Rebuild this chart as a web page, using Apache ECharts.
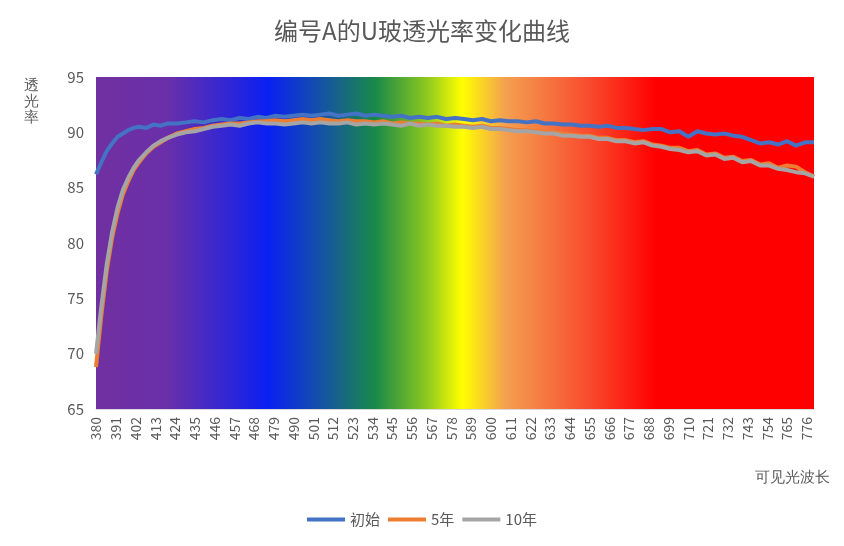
<!DOCTYPE html>
<html><head><meta charset="utf-8">
<script src="https://cdn.jsdelivr.net/npm/echarts@6/dist/echarts.min.js"></script>
<style>html,body{margin:0;padding:0;background:#fff}#c{width:844px;height:546px}</style>
</head><body><div id="c"></div>
<script>
const startWave = 380, endWave = 780;
const waves = [];
for (let w = startWave; w <= endWave; w++) waves.push(String(w));
const sampleWaves = [380,383,386,389,392,395,398,401,404,408,412,416,420,425,430,435,440,445,450,455,460,465,470,475,480,485,490,495,500,505,510,515,520,525,530,535,540,545,550,555,560,565,570,575,580,585,590,595,600,605,610,615,620,625,630,635,640,645,650,655,660,665,670,675,680,685,690,695,700,705,710,715,720,725,730,735,740,745,750,755,760,765,770,775,780];
const initial = [86.2,87.3,88.3,89.0,89.6,89.9,90.2,90.4,90.5,90.4,90.7,90.6,90.8,90.8,90.9,91.0,90.9,91.1,91.2,91.1,91.3,91.2,91.4,91.3,91.5,91.4,91.5,91.6,91.5,91.6,91.7,91.5,91.6,91.7,91.5,91.6,91.5,91.4,91.5,91.3,91.4,91.3,91.4,91.2,91.3,91.2,91.1,91.2,91.0,91.1,91.0,91.0,90.9,91.0,90.8,90.8,90.7,90.7,90.6,90.6,90.5,90.6,90.4,90.4,90.3,90.2,90.3,90.3,90.0,90.1,89.6,90.1,89.9,89.8,89.9,89.7,89.6,89.3,89.0,89.1,88.9,89.2,88.8,89.1,89.1];
const year5 = [68.8,73.5,77.5,80.5,82.7,84.4,85.6,86.6,87.3,88.1,88.7,89.1,89.5,89.9,90.1,90.3,90.4,90.6,90.7,90.8,90.8,90.9,91.0,91.0,91.1,91.0,91.1,91.2,91.1,91.2,91.1,91.0,91.1,91.0,91.0,90.9,91.0,90.8,90.9,90.8,90.8,90.7,90.8,90.6,90.7,90.6,90.5,90.6,90.4,90.4,90.3,90.2,90.2,90.1,90.0,90.0,89.9,89.8,89.7,89.7,89.5,89.5,89.3,89.3,89.1,89.2,88.9,88.8,88.6,88.6,88.3,88.4,88.0,88.1,87.7,87.8,87.4,87.5,87.1,87.2,86.8,87.0,86.9,86.4,86.0];
const year10 = [70.0,74.3,78.1,81.0,83.2,84.8,85.9,86.8,87.5,88.2,88.8,89.2,89.5,89.8,90.0,90.1,90.3,90.5,90.6,90.7,90.6,90.8,90.9,90.8,90.8,90.7,90.8,90.9,90.8,90.9,90.8,90.8,90.9,90.7,90.8,90.7,90.8,90.7,90.6,90.8,90.6,90.7,90.6,90.6,90.5,90.5,90.4,90.5,90.3,90.3,90.2,90.1,90.1,90.0,89.9,89.9,89.7,89.7,89.6,89.6,89.4,89.4,89.2,89.2,89.0,89.1,88.8,88.7,88.5,88.4,88.2,88.3,87.9,88.0,87.6,87.7,87.3,87.4,87.0,87.0,86.7,86.6,86.4,86.3,86.0];
const seriesNames = ['初始','5年','10年'];
const seriesColors = ['#4472C4','#ED7D31','#A5A5A5'];
const pairs = arr => sampleWaves.map((w,i)=>[String(w),arr[i]]);
const chart = echarts.init(document.getElementById('c'));
const font = 'Microsoft YaHei, "Noto Sans CJK SC", sans-serif';
chart.setOption({
  animation:false,
  textStyle:{fontFamily:font},
  title:{text:'编号A的U玻透光率变化曲线',left:'center',top:14,textStyle:{fontSize:24,fontWeight:'normal',color:'#595959',fontFamily:font}},
  legend:{bottom:14,left:'center',itemWidth:38,itemHeight:4,itemGap:8,icon:'rect',textStyle:{fontSize:15,color:'#595959'},data:seriesNames},
  graphic:[
    {type:'text',left:24,top:78,style:{text:'透\n光\n率',fontSize:15,fill:'#595959',lineHeight:16}},
    {type:'text',right:14,top:470,style:{text:'可见光波长',fontSize:15,fill:'#595959'}}
  ],
  grid:{left:96,right:30,top:77,bottom:137},
  xAxis:{type:'category',data:waves,boundaryGap:false,
    axisLine:{lineStyle:{color:'#D9D9D9'}},axisTick:{show:false},
    axisLabel:{interval:10,rotate:90,color:'#595959',fontSize:14,margin:8},
    splitLine:{show:false}},
  yAxis:{type:'value',min:65,max:95,interval:5,
    axisLabel:{color:'#595959',fontSize:15,margin:12},splitLine:{show:false},axisLine:{show:false}},
  series:[
    {type:'line',name:'__bg',data:[],silent:true,
     markArea:{silent:true,data:[[{xAxis:'380',yAxis:95,itemStyle:{color:new echarts.graphic.LinearGradient(0,0,1,0,[
       {offset:0,color:'#7030A0'},{offset:0.1,color:'#6A2FAA'},{offset:0.24,color:'#0A20F2'},
       {offset:0.31,color:'#1450AA'},{offset:0.39,color:'#1A8A48'},{offset:0.46,color:'#8CC820'},
       {offset:0.51,color:'#FFFF00'},{offset:0.57,color:'#F4A050'},{offset:0.68,color:'#F85030'},
       {offset:0.78,color:'#FF0000'},{offset:1,color:'#FF0000'}])}},{xAxis:'780',yAxis:65}]]}},
    ...seriesNames.map((n,k)=>({type:'line',name:n,data:pairs([initial,year5,year10][k]),showSymbol:false,
      lineStyle:{width:4,color:seriesColors[k]},itemStyle:{color:seriesColors[k]}}))
  ]
});
</script></body></html>
